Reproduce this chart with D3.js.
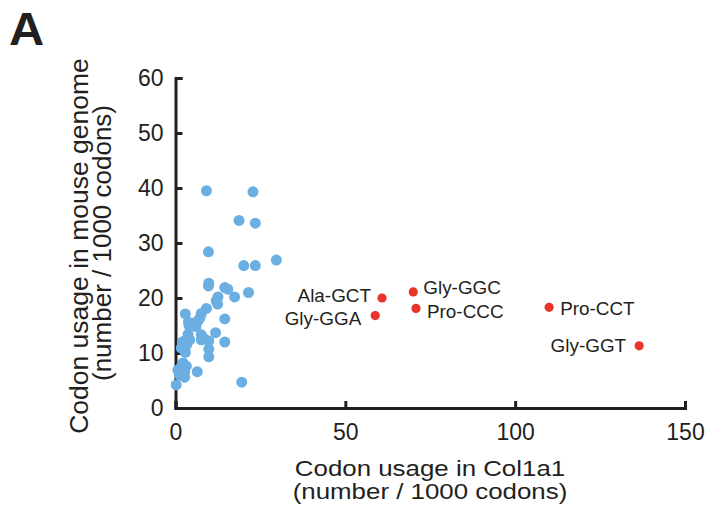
<html>
<head>
<script src="https://d3js.org/d3.v7.min.js"></script>
<style>
  body { margin: 0; background: #fff; }
  text { font-family: "Liberation Sans", Arial, sans-serif; fill: #231f20; }
</style>
</head>
<body>
<svg id="svg" width="707" height="514"></svg>
<script>
// other codons (blue)
var otherX = [9.1, 22.8, 18.7, 23.5, 9.7, 29.7, 20.1, 23.5, 9.8, 9.7, 14.5, 15.4, 21.5, 17.4, 12.5, 12.0,
              12.4, 9.1, 7.6, 2.9, 14.5, 3.8, 5.2, 6.6, 7.2, 11.8, 3.7, 7.6, 2.7, 4.2, 7.6, 9.8, 14.5,
              1.7, 2.9, 9.8, 9.8, 2.2, 1.7, 3.2, 0.7, 2.7, 1.2, 6.4, 2.7, 0.2, 19.5, 4.0, 6.0, 8.5, 3.3, 2.0];
var otherY = [39.5, 39.3, 34.1, 33.6, 28.4, 26.9, 25.9, 25.9, 22.7, 22.2, 21.9, 21.6, 21.0, 20.2, 20.2, 19.5,
              18.9, 18.1, 17.2, 17.1, 16.2, 15.6, 15.4, 15.8, 16.4, 13.7, 13.4, 13.3, 12.2, 12.4, 12.4, 12.2, 12.0,
              10.9, 10.1, 10.7, 9.3, 8.2, 7.5, 7.6, 6.9, 6.6, 6.0, 6.6, 5.6, 4.2, 4.7, 15.0, 14.8, 12.6, 11.5, 12.0];

// highlighted codons (red)
var hiNames = ["Ala-GCT", "Gly-GGA", "Gly-GGC", "Pro-CCC", "Pro-CCT", "Gly-GGT"];
var hiX = [60.8, 58.8, 70.0, 70.8, 110.0, 136.5];
var hiY = [20.0, 16.8, 21.1, 18.1, 18.3, 11.3];

var xTicks = [0, 50, 100, 150];
var yTicks = [0, 10, 20, 30, 40, 50, 60];

// label placement next to each red dot (px)
var nudge = {
    "Ala-GCT": [-11, -2], "Gly-GGA": [-14, 3], "Gly-GGC": [10, -4],
    "Pro-CCC": [11, 3], "Pro-CCT": [11, 1], "Gly-GGT": [-13, 0]
};

var svg = d3.select("svg");
var x = d3.scaleLinear().domain([0, 150]).range([175.5, 685]);
var y = d3.scaleLinear().domain([0, 60]).range([408, 78]);

svg.append("text").attr("transform", "translate(9,45) scale(1.06,1)")
   .style("font-size", "46px").style("font-weight", "bold").text("A");

var xAxis = svg.append("g").attr("transform", "translate(0,408)")
   .call(d3.axisBottom(x).tickValues(xTicks).tickSizeInner(-7).tickSizeOuter(-7).tickPadding(16));
var yAxis = svg.append("g").attr("transform", "translate(175.5,0)")
   .call(d3.axisLeft(y).tickValues(yTicks).tickSizeInner(-7).tickSizeOuter(-7).tickPadding(12));

[xAxis, yAxis].forEach(function(a){
    a.select(".domain").attr("stroke", "#231f20").attr("stroke-width", 3);
    a.selectAll(".tick line").attr("stroke", "#231f20").attr("stroke-width", 3);
    a.selectAll(".tick text").style("font-size", "23px").attr("fill", "#231f20")
     .style("font-family", "'Liberation Sans', Arial, sans-serif");
});

svg.append("g").selectAll("circle").data(otherX).enter().append("circle")
   .attr("cx", function(d){ return x(d); })
   .attr("cy", function(d, i){ return y(otherY[i]); })
   .attr("r", 5.5).attr("fill", "#6aaee2");

var hi = svg.append("g").selectAll("g").data(hiNames).enter().append("g");
hi.append("circle")
   .attr("cx", function(d, i){ return x(hiX[i]); })
   .attr("cy", function(d, i){ return y(hiY[i]); })
   .attr("r", 4.6).attr("fill", "#e8342a");
hi.append("text")
   .attr("transform", function(d, i){
       return "translate(" + (x(hiX[i]) + nudge[d][0]) + "," + (y(hiY[i]) + nudge[d][1]) + ") scale(1.05,1)";
   })
   .attr("dy", "0.35em")
   .attr("text-anchor", function(d){ return nudge[d][0] < 0 ? "end" : "start"; })
   .style("font-size", "18px")
   .text(function(d){ return d; });

// x axis title (set a little wide, like the original lettering)
svg.append("text").attr("transform", "translate(430,476) scale(1.15,1)").attr("text-anchor", "middle")
   .style("font-size", "22.5px").text("Codon usage in Col1a1");
svg.append("text").attr("transform", "translate(430,499) scale(1.15,1)").attr("text-anchor", "middle")
   .style("font-size", "22.5px").text("(number / 1000 codons)");

svg.append("text").attr("transform", "translate(88,246) rotate(-90)").attr("text-anchor", "middle")
   .style("font-size", "26.5px").text("Codon usage in mouse genome");
svg.append("text").attr("transform", "translate(111,243) rotate(-90)").attr("text-anchor", "middle")
   .style("font-size", "26px").text("(number / 1000 codons)");
</script>
</body>
</html>
